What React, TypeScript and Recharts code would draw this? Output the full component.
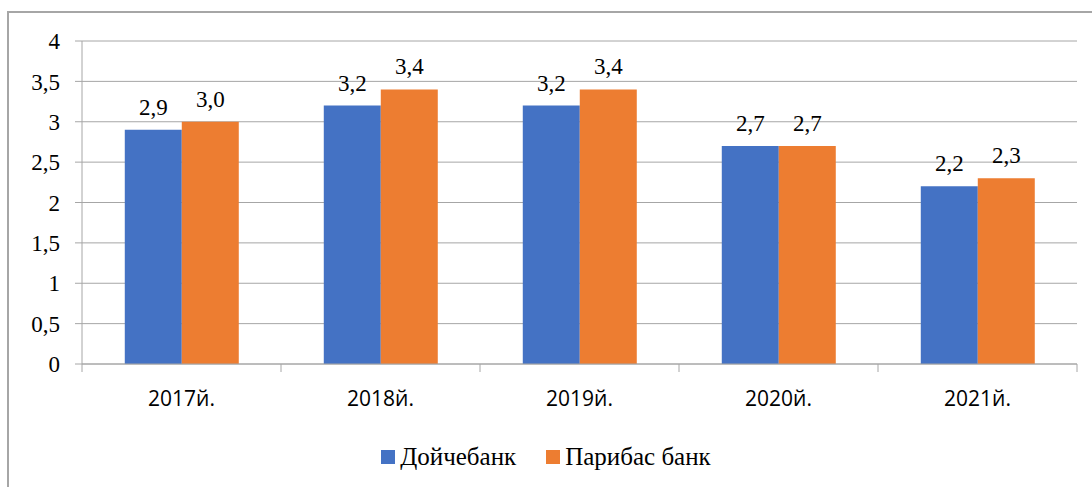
import { BarChart, Bar, XAxis, YAxis, CartesianGrid, Legend, LabelList } from 'recharts'

const years = ['2017й.', '2018й.', '2019й.', '2020й.', '2021й.']
const deutsche = [2.9, 3.2, 3.2, 2.7, 2.2]
const paribas = [3.0, 3.4, 3.4, 2.7, 2.3]
const yTicks = [0, 0.5, 1, 1.5, 2, 2.5, 3, 3.5, 4]

const data = years.map((year, i) => ({ year, deutsche: deutsche[i], paribas: paribas[i] }))

const GRID = '#a6a6a6'
const BLUE = '#4472c4'
const ORANGE = '#ed7d31'
const SERIF = '"Liberation Serif", Tinos, "DejaVu Serif", serif'
const SANS = 'Open Sans'

const comma = (v: number) => String(v).replace('.', ',')
const label = (v: any) => Number(v).toFixed(1).replace('.', ',')

function YearTick(props: any) {
  const { x, y, payload, index, visibleTicksCount } = props
  const half = payload?.offset ?? 99.5
  const last = index === visibleTicksCount - 1
  return (
    <g>
      <line x1={x - half} x2={x - half} y1={y} y2={y + 8} stroke={GRID} />
      {last && <line x1={x + half} x2={x + half} y1={y} y2={y + 8} stroke={GRID} />}
      <text x={x} y={y + 42} textAnchor="middle" style={{ fontFamily: SANS, fontSize: 21 }} fill="#000">
        {payload.value}
      </text>
    </g>
  )
}

function LegendBox({ payload }: any) {
  return (
    <div style={{ display: 'flex', justifyContent: 'center', gap: 30, fontFamily: SERIF, fontSize: 25, color: '#000' }}>
      {(payload || []).map((p: any) => (
        <div key={p.value} style={{ display: 'flex', alignItems: 'center', gap: 5 }}>
          <span style={{ width: 14, height: 14, background: p.color, display: 'inline-block' }} />
          <span>{p.value}</span>
        </div>
      ))}
    </div>
  )
}

export default function App() {
  return (
    <div style={{ position: 'fixed', left: 0, top: 0, width: 1092, height: 487, background: '#fff', overflow: 'hidden', fontFamily: SERIF }}>
      <div style={{ position: 'absolute', left: 7, top: 11, width: 1200, height: 600, borderLeft: `2px solid ${GRID}`, borderTop: `2px solid ${GRID}` }} />
      <div style={{ position: 'absolute', left: 0, top: 0 }}>
        <BarChart
          width={1092}
          height={487}
          data={data}
          margin={{ top: 41, right: 15, left: 0, bottom: 55 }}
          barCategoryGap="21.5%"
          barGap={0}
          style={{ fontFamily: SERIF }}
        >
          <CartesianGrid vertical={false} stroke={GRID} />
          <YAxis
            domain={[0, 4]}
            ticks={yTicks}
            interval={0}
            width={82}
            tickFormatter={comma}
            tickSize={7}
            tickMargin={15}
            axisLine={{ stroke: GRID }}
            tickLine={{ stroke: GRID }}
            tick={{ fontSize: 23, fill: '#000', style: { fontFamily: SERIF } }}
          />
          <XAxis
            dataKey="year"
            height={40}
            tickSize={0}
            tickMargin={0}
            axisLine={{ stroke: GRID }}
            tickLine={false}
            tick={<YearTick />}
            interval={0}
          />
          <Legend
            content={<LegendBox />}
            verticalAlign="bottom"
            wrapperStyle={{ top: 443, bottom: 'auto', left: 0, width: 1092 }}
          />
          <Bar dataKey="deutsche" name="Дойчебанк" fill={BLUE} isAnimationActive={false}>
            <LabelList dataKey="deutsche" position="top" offset={15} formatter={label} style={{ fontFamily: SERIF }} fontSize={23} fill="#000" />
          </Bar>
          <Bar dataKey="paribas" name="Парибас банк" fill={ORANGE} isAnimationActive={false}>
            <LabelList dataKey="paribas" position="top" offset={15} formatter={label} style={{ fontFamily: SERIF }} fontSize={23} fill="#000" />
          </Bar>
        </BarChart>
      </div>
    </div>
  )
}
